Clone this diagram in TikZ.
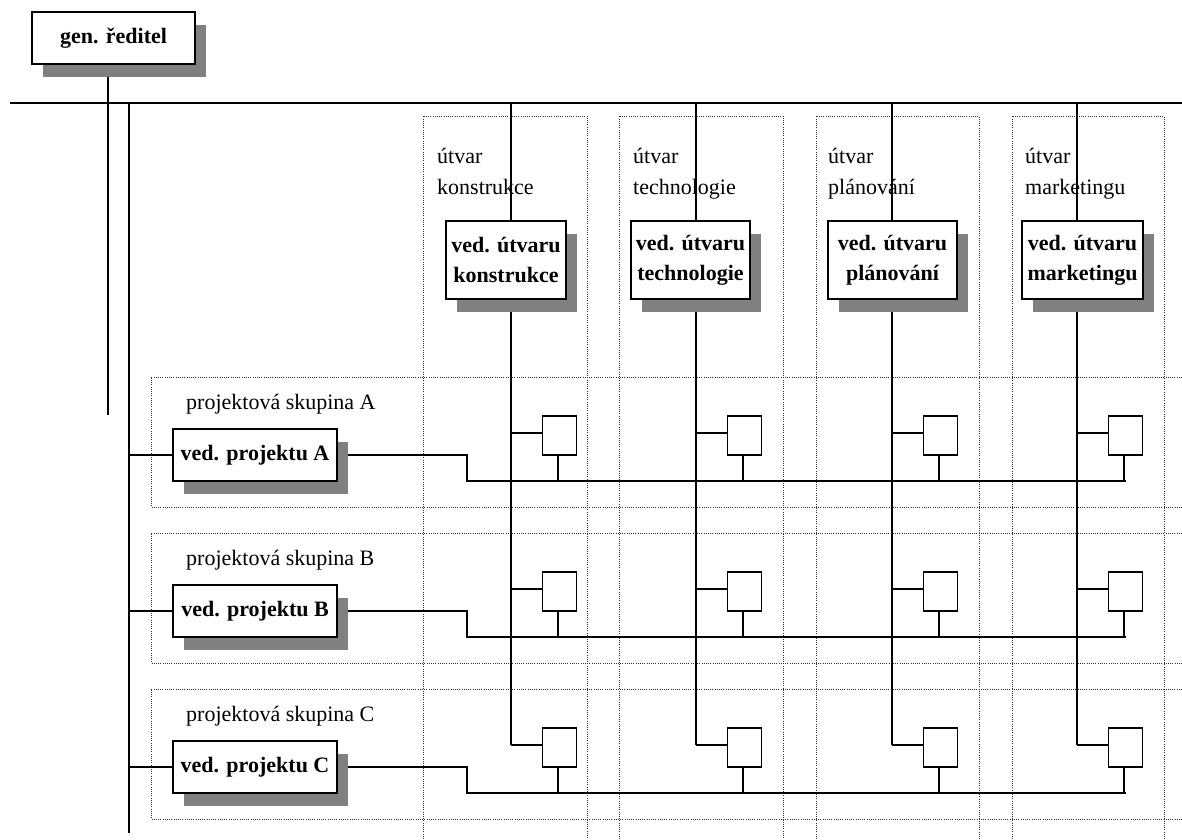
\documentclass[tikz,border=0pt]{standalone}
\usepackage{fontspec}
\setmainfont{Liberation Serif}
\usetikzlibrary{shadows}
\pgfdeclarelayer{bg}
\pgfsetlayers{bg,main}
\definecolor{shgray}{RGB}{128,128,128}
\tikzset{
  conn/.style={line width=1.4pt, black},
  frame/.style={line width=1pt, black!80, dash pattern=on 1pt off 1.2pt},
  shbox/.style={draw, line width=1.6pt, fill=white, inner sep=0pt,
    font=\fontsize{22}{30}\selectfont\bfseries, align=center,
    drop shadow={shadow xshift=10.5pt, shadow yshift=-13pt, fill=shgray, opacity=1}},
  sqbox/.style={draw, line width=1.5pt, fill=white, minimum width=34pt,
    minimum height=39pt, inner sep=0pt},
  lbl/.style={anchor=base west, inner sep=0pt, font=\fontsize{22}{30}\selectfont},
}
\begin{document}
\begin{tikzpicture}[x=1pt,y=-1pt]
\useasboundingbox (0,0) rectangle (1182,839);
% general director
\node[shbox, minimum width=163pt, minimum height=52pt] (gen) at (113.5,38) {gen. ředitel};
\coordinate (gl) at (108,415);
\coordinate (hl) at (10,103);
\coordinate (hr) at (1182,103);
\coordinate (vtop) at (129,103);
\coordinate (vbot) at (129,833);
% columns
\foreach \i/\lx/\bx/\bw/\tx/\nm in {1/511/506/120pt/437/konstrukce,
    2/696/690.5/119pt/633/technologie, 3/892/892.5/129pt/828/plánování,
    4/1077/1082.5/121pt/1025/marketingu}{
  \coordinate (t\i) at (\lx,103);
  \node[lbl] (la\i) at (\tx,163) {útvar};
  \node[lbl] (lb\i) at (\tx,194) {\nm};
  \node[shbox, minimum width=\bw, minimum height=78pt] (u\i) at (\bx,260) {ved. útvaru\\\nm};
}
% rows
\foreach \r/\dy in {A/0, B/156, C/312}{
  \node[lbl] (lp\r) at (186,409+\dy) {projektová skupina \r};
  \node[shbox, minimum width=164pt, minimum height=52pt] (p\r) at (255,455+\dy) {ved. projektu \r};
  \coordinate (j\r) at (467,481+\dy);
  \foreach \i/\lx in {1/511, 2/696, 3/892, 4/1077}{
    \node[sqbox] (sq\r\i) at (\lx+48.5,435.5+\dy) {};
  }
}
\coordinate (cend) at (0,745);
\begin{pgfonlayer}{bg}
  % dotted frames of columns
  \foreach \fl/\fr in {423/587, 619/783, 816/979, 1012/1164}{
    \draw[frame] (\fl,839) -- (\fl,116) -- (\fr,116) -- (\fr,839);
  }
  % dotted frames of rows
  \foreach \dy in {0,156,312}{
    \draw[frame] (1182,377+\dy) -- (151,377+\dy) -- (151,507+\dy) -- (1182,507+\dy);
  }
  \draw[conn] (hl) -- (hr);
  \draw[conn] (gen.south -| gl) -- (gl);
  \draw[conn] (vtop) -- (vbot);
  \foreach \i in {1,2,3,4}{
    \draw[conn] (t\i) -- (t\i |- cend);
  }
  \foreach \r in {A,B,C}{
    \draw[conn] (p\r.west) -- (p\r.west -| vtop);
    \draw[conn] (p\r.east) -| (j\r) -- (j\r -| sq\r4.south);
    \foreach \i in {1,2,3,4}{
      \draw[conn] ([yshift=2.5pt]sq\r\i.west) -- ([yshift=2.5pt]sq\r\i.west -| t\i);
      \draw[conn] ([xshift=-1.5pt]sq\r\i.south) -- ([xshift=-1.5pt]sq\r\i.south |- j\r);
    }
  }
\end{pgfonlayer}
\end{tikzpicture}
\end{document}
